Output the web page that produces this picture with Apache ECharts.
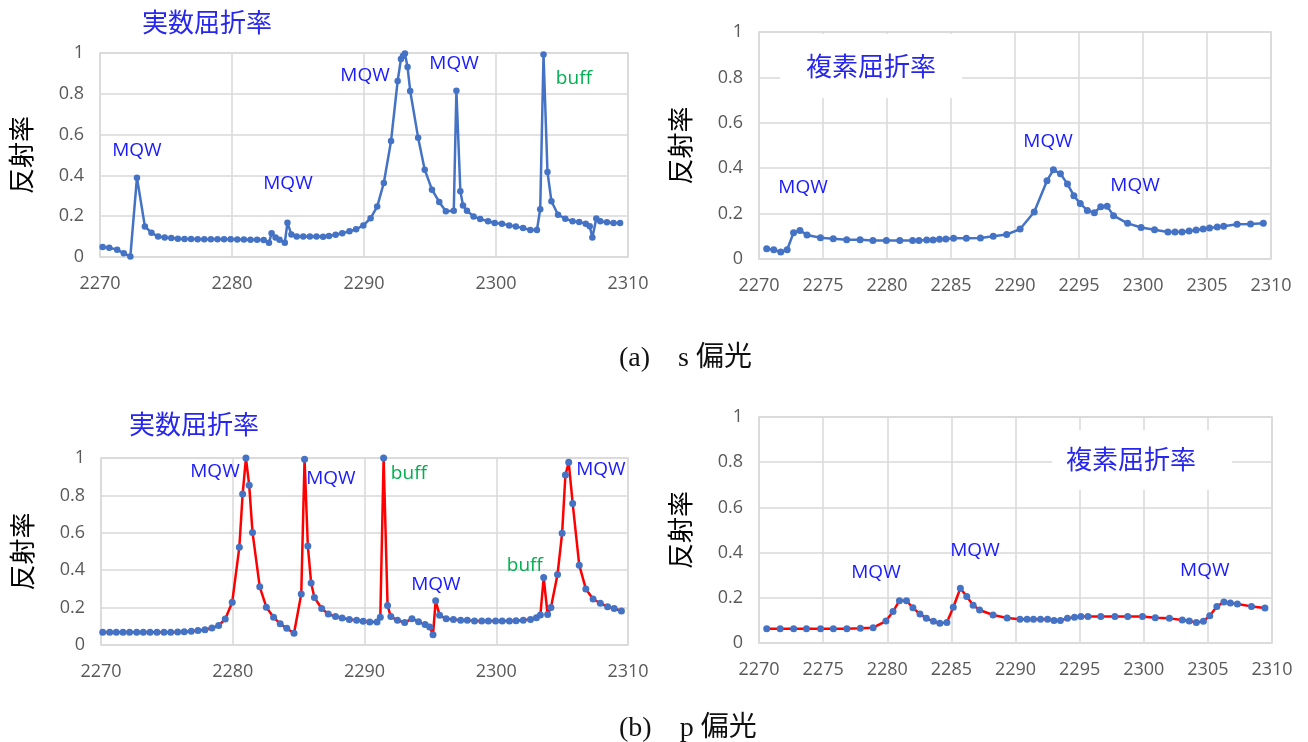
<!DOCTYPE html>
<html>
<head>
<meta charset="utf-8">
<script src="https://cdn.jsdelivr.net/npm/echarts@6/dist/echarts.min.js"></script>
<style>
  html, body { margin: 0; padding: 0; background: #ffffff; }
  #chart { width: 1308px; height: 742px; }
</style>
</head>
<body>
<div id="chart"></div>
<script>
// ---- s-polarised light, real refractive index ----
const sRealWl = [2270.2, 2270.7, 2271.3, 2271.8, 2272.3, 2272.8, 2273.4, 2273.9, 2274.4, 2274.9,
  2275.4, 2275.9, 2276.4, 2276.9, 2277.4, 2277.9, 2278.4, 2278.9, 2279.4, 2279.9,
  2280.4, 2280.9, 2281.4, 2281.9, 2282.4, 2282.8, 2283.0, 2283.3, 2283.6, 2284.0,
  2284.2, 2284.5, 2284.9, 2285.4, 2285.9, 2286.4, 2286.9, 2287.35, 2287.85, 2288.35,
  2288.9, 2289.4, 2289.95, 2290.5, 2291.0, 2291.5, 2292.05, 2292.55, 2292.8, 2292.95,
  2293.1, 2293.3, 2293.5, 2294.1, 2294.6, 2295.15, 2295.7, 2296.2, 2296.8, 2297.0,
  2297.3, 2297.5, 2297.8, 2298.3, 2298.8, 2299.4, 2299.9, 2300.45, 2301.0, 2301.5,
  2302.05, 2302.6, 2303.1, 2303.35, 2303.6, 2303.9, 2304.2, 2304.7, 2305.25, 2305.8,
  2306.3, 2306.8, 2307.1, 2307.3, 2307.6, 2307.9, 2308.4, 2308.9, 2309.4];
const sRealR = [0.049, 0.045, 0.036, 0.018, 0.003, 0.389, 0.150, 0.119, 0.100, 0.096,
  0.093, 0.090, 0.088, 0.088, 0.087, 0.087, 0.087, 0.087, 0.087, 0.087,
  0.086, 0.086, 0.085, 0.085, 0.083, 0.070, 0.116, 0.095, 0.085, 0.070,
  0.168, 0.110, 0.100, 0.100, 0.100, 0.100, 0.099, 0.103, 0.109, 0.116,
  0.126, 0.136, 0.155, 0.190, 0.247, 0.363, 0.569, 0.863, 0.971, 0.985,
  0.998, 0.931, 0.814, 0.585, 0.428, 0.330, 0.270, 0.224, 0.227, 0.815,
  0.322, 0.253, 0.227, 0.199, 0.186, 0.175, 0.167, 0.163, 0.155, 0.149,
  0.142, 0.132, 0.132, 0.234, 0.993, 0.417, 0.273, 0.207, 0.188, 0.175,
  0.172, 0.163, 0.151, 0.096, 0.189, 0.175, 0.170, 0.167, 0.167];

// ---- s-polarised light, complex refractive index ----
const sCplxWl = [2270.6, 2271.15, 2271.7, 2272.2, 2272.7, 2273.2, 2273.75, 2274.8, 2275.8, 2276.85,
  2277.9, 2278.9, 2279.95, 2281.0, 2282.0, 2282.5, 2283.1, 2283.6, 2284.1, 2284.6,
  2285.2, 2286.2, 2287.3, 2288.3, 2289.35, 2290.4, 2291.5, 2292.5, 2293.0, 2293.55,
  2294.1, 2294.6, 2295.1, 2295.65, 2296.2, 2296.7, 2297.2, 2297.7, 2298.8, 2299.85,
  2300.9, 2301.95, 2302.5, 2303.05, 2303.6, 2304.15, 2304.7, 2305.2, 2305.8, 2306.3,
  2307.35, 2308.4, 2309.4];
const sCplxR = [0.045, 0.041, 0.031, 0.041, 0.116, 0.126, 0.106, 0.094, 0.089, 0.085,
  0.085, 0.082, 0.082, 0.082, 0.082, 0.082, 0.084, 0.084, 0.087, 0.088,
  0.091, 0.091, 0.093, 0.100, 0.108, 0.132, 0.207, 0.345, 0.393, 0.376,
  0.330, 0.279, 0.244, 0.214, 0.204, 0.230, 0.232, 0.191, 0.157, 0.139,
  0.129, 0.119, 0.119, 0.119, 0.123, 0.128, 0.132, 0.137, 0.141, 0.144,
  0.153, 0.154, 0.157];

// ---- p-polarised light, real refractive index ----
const pRealWl = [2270.13, 2270.66, 2271.16, 2271.67, 2272.17, 2272.71, 2273.21, 2273.72, 2274.25, 2274.78,
  2275.29, 2275.82, 2276.32, 2276.85, 2277.36, 2277.89, 2278.42, 2278.93, 2279.43, 2279.96,
  2280.5, 2280.75, 2281.0, 2281.25, 2281.5, 2282.05, 2282.55, 2283.1, 2283.6, 2284.1,
  2284.65, 2285.2, 2285.45, 2285.7, 2285.95, 2286.2, 2286.75, 2287.25, 2287.8, 2288.3,
  2288.85, 2289.4, 2289.9, 2290.4, 2290.95, 2291.2, 2291.45, 2291.75, 2292.0, 2292.5,
  2293.05, 2293.6, 2294.1, 2294.6, 2294.95, 2295.2, 2295.4, 2295.7, 2296.2, 2296.75,
  2297.3, 2297.8, 2298.35, 2298.9, 2299.4, 2299.95, 2300.45, 2301.0, 2301.5, 2302.05,
  2302.6, 2303.05, 2303.35, 2303.6, 2303.9, 2304.15, 2304.65, 2305.0, 2305.25, 2305.5,
  2305.8, 2306.3, 2306.8, 2307.35, 2307.9, 2308.45, 2308.95, 2309.5];
const pRealR = [0.068, 0.068, 0.068, 0.068, 0.068, 0.068, 0.068, 0.068, 0.068, 0.068,
  0.068, 0.069, 0.071, 0.073, 0.077, 0.082, 0.091, 0.104, 0.139, 0.229,
  0.523, 0.807, 1.000, 0.854, 0.602, 0.311, 0.202, 0.148, 0.114, 0.089,
  0.063, 0.273, 0.993, 0.529, 0.332, 0.254, 0.195, 0.166, 0.152, 0.145,
  0.136, 0.132, 0.127, 0.123, 0.123, 0.148, 1.000, 0.211, 0.152, 0.132,
  0.120, 0.141, 0.125, 0.109, 0.096, 0.055, 0.236, 0.159, 0.141, 0.136,
  0.132, 0.132, 0.129, 0.129, 0.129, 0.129, 0.129, 0.129, 0.130, 0.132,
  0.137, 0.146, 0.161, 0.361, 0.163, 0.200, 0.377, 0.598, 0.909, 0.977,
  0.757, 0.427, 0.300, 0.246, 0.223, 0.205, 0.195, 0.182];

// ---- p-polarised light, complex refractive index ----
const pCplxWl = [2270.6, 2271.65, 2272.7, 2273.7, 2274.8, 2275.8, 2276.85, 2277.9, 2278.9, 2279.9,
  2280.45, 2280.95, 2281.5, 2282.0, 2282.55, 2283.05, 2283.6, 2284.1, 2284.65, 2285.15,
  2285.7, 2286.2, 2286.7, 2287.2, 2288.25, 2289.35, 2290.35, 2290.9, 2291.4, 2291.95,
  2292.5, 2293.0, 2293.5, 2294.05, 2294.6, 2295.1, 2295.65, 2296.65, 2297.75, 2298.75,
  2299.9, 2300.9, 2302.0, 2303.0, 2303.55, 2304.1, 2304.65, 2305.15, 2305.7, 2306.25,
  2306.75, 2307.3, 2308.4, 2309.45];
const pCplxR = [0.063, 0.063, 0.063, 0.063, 0.063, 0.063, 0.063, 0.065, 0.068, 0.097,
  0.139, 0.187, 0.187, 0.156, 0.128, 0.109, 0.096, 0.087, 0.091, 0.158,
  0.242, 0.206, 0.167, 0.146, 0.124, 0.111, 0.105, 0.105, 0.105, 0.105,
  0.105, 0.100, 0.100, 0.109, 0.114, 0.117, 0.117, 0.117, 0.117, 0.117,
  0.117, 0.112, 0.109, 0.102, 0.097, 0.091, 0.096, 0.121, 0.162, 0.181,
  0.177, 0.173, 0.162, 0.155];

// ---- peak annotations: [wavelength, reflectance, text] ----
const sRealNotes = [[2272.8, 0.52, 'MQW'], [2284.24, 0.358, 'MQW'], [2290.08, 0.887, 'MQW'],
  [2296.82, 0.946, 'MQW'], [2305.9, 0.873, 'buff']];
const sCplxNotes = [[2273.44, 0.314, 'MQW'], [2292.58, 0.516, 'MQW'], [2299.375, 0.323, 'MQW']];
const pRealNotes = [[2278.65, 0.927, 'MQW'], [2287.45, 0.889, 'MQW'], [2293.37, 0.916, 'buff'],
  [2295.42, 0.321, 'MQW'], [2302.17, 0.423, 'buff'], [2307.94, 0.937, 'MQW']];
const pCplxNotes = [[2279.12, 0.311, 'MQW'], [2286.84, 0.408, 'MQW'], [2304.76, 0.320, 'MQW']];

// ---- axis / text settings ----
const xMin = 2270, xMax = 2310;
const yMin = 0, yMax = 1, yStep = 0.2;
const yName = '反射率';
const realTitle = '実数屈折率';
const cplxTitle = '複素屈折率';
const captionS = '(a)\u3000s 偏光';
const captionP = '(b)\u3000p 偏光';

const BLUE_LINE = '#4472c4';
const RED_LINE = '#ff0000';
const NOTE_BLUE = '#1a1aff';
const NOTE_GREEN = '#00b050';
const TITLE_BLUE = '#2626ee';
const GRID_GRAY = '#d9d9d9';
const LABEL_GRAY = '#595959';
const LATIN = '"Open Sans", "Liberation Sans", sans-serif';
const CJK = '"Noto Sans CJK JP", sans-serif';

const zip = (xs, ys) => xs.map((x, i) => [x, ys[i]]);

const grids = [
  { left: 100, top: 53, width: 528, height: 204 },
  { left: 759, top: 32, width: 512, height: 227 },
  { left: 101, top: 458, width: 527, height: 187 },
  { left: 759, top: 417, width: 513, height: 226 }
];
const xSteps = [10, 5, 10, 5];

const xAxes = grids.map((g, i) => ({
  type: 'value', gridIndex: i, min: xMin, max: xMax, interval: xSteps[i],
  axisLine: { show: false }, axisTick: { show: false },
  axisLabel: { color: LABEL_GRAY, fontSize: 18, fontFamily: LATIN, margin: 18,
    formatter: v => String(v) },
  splitLine: { show: true, lineStyle: { color: GRID_GRAY, width: 1.5 } }
}));
const yAxes = grids.map((g, i) => ({
  type: 'value', gridIndex: i, min: yMin, max: yMax, interval: yStep,
  name: yName, nameLocation: 'middle', nameRotate: 90, nameGap: 66,
  nameTextStyle: { color: '#000', fontSize: 26, fontFamily: CJK },
  axisLine: { show: false }, axisTick: { show: false },
  axisLabel: { color: LABEL_GRAY, fontSize: 18, fontFamily: LATIN, margin: 16 },
  splitLine: { show: true, lineStyle: { color: GRID_GRAY, width: 1.5 } }
}));

function notes(list) {
  return {
    silent: true,
    symbol: 'circle', symbolSize: 1,
    itemStyle: { color: 'rgba(0,0,0,0)' },
    data: list.map(n => ({
      coord: [n[0], n[1]],
      label: {
        show: true, position: 'inside', formatter: n[2],
        color: n[2] === 'buff' ? NOTE_GREEN : NOTE_BLUE,
        fontSize: 19, fontFamily: LATIN
      }
    }))
  };
}

function lineSeries(i, data, lineColor, dotSize, noteList) {
  return {
    type: 'line', xAxisIndex: i, yAxisIndex: i, data: data,
    symbol: 'circle', symbolSize: dotSize, showSymbol: true,
    lineStyle: { color: lineColor, width: 2.5 },
    itemStyle: { color: BLUE_LINE, borderWidth: 0 },
    animation: false, z: 3,
    markPoint: notes(noteList)
  };
}

const chart = echarts.init(document.getElementById('chart'), null, { renderer: 'canvas' });
chart.setOption({
  backgroundColor: '#ffffff',
  animation: false,
  grid: grids.map(g => Object.assign({ show: true, borderColor: GRID_GRAY, borderWidth: 1.5, backgroundColor: 'transparent' }, g)),
  xAxis: xAxes,
  yAxis: yAxes,
  series: [
    lineSeries(0, zip(sRealWl, sRealR), BLUE_LINE, 6.5, sRealNotes),
    lineSeries(1, zip(sCplxWl, sCplxR), BLUE_LINE, 7, sCplxNotes),
    lineSeries(2, zip(pRealWl, pRealR), RED_LINE, 7, pRealNotes),
    lineSeries(3, zip(pCplxWl, pCplxR), RED_LINE, 7, pCplxNotes)
  ],
  graphic: [
    // panel titles
    { type: 'text', x: 207, y: 22, z: 100,
      style: { text: realTitle, fill: TITLE_BLUE, font: '26px ' + CJK, align: 'center', verticalAlign: 'middle' } },
    { type: 'text', x: 194, y: 424, z: 100,
      style: { text: realTitle, fill: TITLE_BLUE, font: '26px ' + CJK, align: 'center', verticalAlign: 'middle' } },
    // complex-index titles sit on a white box inside the plot
    { type: 'rect', z: 100, shape: { x: 780, y: 34, width: 182, height: 64 }, style: { fill: '#ffffff' } },
    { type: 'text', x: 871, y: 66, z: 101,
      style: { text: cplxTitle, fill: TITLE_BLUE, font: '26px ' + CJK, align: 'center', verticalAlign: 'middle' } },
    { type: 'rect', z: 100, shape: { x: 1052, y: 430, width: 180, height: 60 }, style: { fill: '#ffffff' } },
    { type: 'text', x: 1131, y: 459, z: 101,
      style: { text: cplxTitle, fill: TITLE_BLUE, font: '26px ' + CJK, align: 'center', verticalAlign: 'middle' } },
    // sub-figure captions
    { type: 'text', x: 619, y: 359, z: 100,
      style: { text: captionS, fill: '#111', font: '28px "Liberation Serif", ' + CJK, align: 'left', verticalAlign: 'middle' } },
    { type: 'text', x: 619, y: 729, z: 100,
      style: { text: captionP, fill: '#111', font: '28px "Liberation Serif", ' + CJK, align: 'left', verticalAlign: 'middle' } }
  ]
});
</script>
</body>
</html>
